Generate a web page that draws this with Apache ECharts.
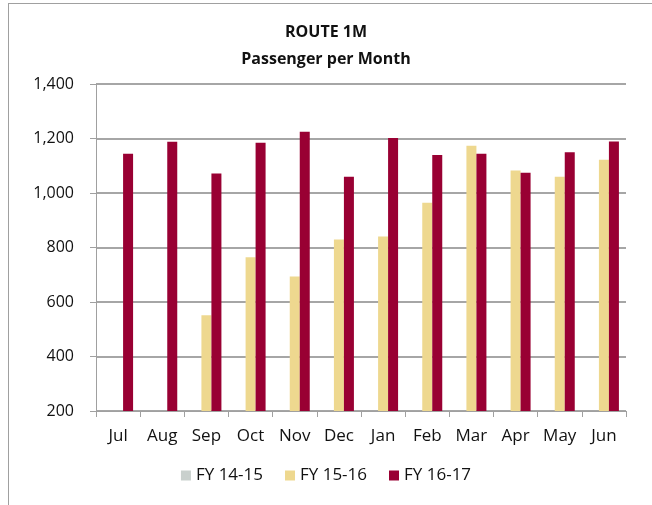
<!DOCTYPE html>
<html>
<head>
<meta charset="utf-8">
<script src="https://cdn.jsdelivr.net/npm/echarts@6/dist/echarts.min.js"></script>
<style>
  html, body { margin: 0; padding: 0; background: #fff; }
  #frame { position: absolute; left: 8px; top: 3px; width: 700px; height: 600px; border-left: 1px solid #a0a0a0; border-top: 1px solid #a0a0a0; }
  #chart { position: absolute; left: 0; top: 0; width: 652px; height: 505px; }
</style>
</head>
<body>
<div id="frame"></div>
<div id="chart"></div>
<script>
// months of the fiscal year
const months = ['Jul', 'Aug', 'Sep', 'Oct', 'Nov', 'Dec', 'Jan', 'Feb', 'Mar', 'Apr', 'May', 'Jun']
const seriesNames = ['FY 14-15', 'FY 15-16', 'FY 16-17']
const fy1415 = [0, 0, 0, 0, 0, 0, 0, 0, 0, 0, 0, 0]
const fy1516 = [0, 0, 551, 764, 694, 829, 840, 964, 1173, 1083, 1060, 1122]
const fy1617 = [1144, 1188, 1072, 1184, 1225, 1060, 1202, 1139, 1144, 1074, 1150, 1189]
const yTicks = [200, 400, 600, 800, 1000, 1200, 1400]

const colors = ['#c9d0cd', '#eed88f', '#990033']
const font = '"Open Sans", "Noto Sans", sans-serif'

const chart = echarts.init(document.getElementById('chart'))

chart.setOption({
  animation: false,
  color: colors,
  title: {
    text: 'ROUTE 1M\nPassenger per Month',
    left: 'center',
    top: 14,
    textStyle: { fontFamily: font, fontSize: 16, fontWeight: 'bold', color: '#111', lineHeight: 27 }
  },
  legend: {
    bottom: 16,
    left: 'center',
    itemWidth: 10,
    itemHeight: 10,
    itemGap: 22,
    icon: 'rect',
    data: seriesNames,
    textStyle: { fontFamily: font, fontSize: 17, color: '#111' }
  },
  grid: { left: 96, right: 26, top: 84, bottom: 94 },
  xAxis: {
    type: 'category',
    data: months,
    axisLine: { lineStyle: { color: '#a0a0a0', width: 1 } },
    axisTick: { show: true, length: 6, lineStyle: { color: '#a0a0a0' } },
    axisLabel: { fontFamily: font, fontSize: 17, color: '#111', margin: 17 }
  },
  yAxis: {
    type: 'value',
    min: yTicks[0],
    max: yTicks[yTicks.length - 1],
    interval: 200,
    axisLine: { show: true, lineStyle: { color: '#a0a0a0', width: 1 } },
    axisTick: { show: true, length: 6, lineStyle: { color: '#a0a0a0' } },
    splitLine: { lineStyle: { color: '#a6a6a6', width: 2 } },
    axisLabel: {
      fontFamily: font, fontSize: 16, color: '#111', margin: 22,
      formatter: v => v.toLocaleString('en-US')
    }
  },
  series: [
    { name: seriesNames[0], type: 'bar', data: fy1415, barWidth: 10, barGap: '0%' },
    { name: seriesNames[1], type: 'bar', data: fy1516, barWidth: 10, barGap: '0%' },
    { name: seriesNames[2], type: 'bar', data: fy1617, barWidth: 10, barGap: '0%' }
  ]
})
</script>
</body>
</html>
